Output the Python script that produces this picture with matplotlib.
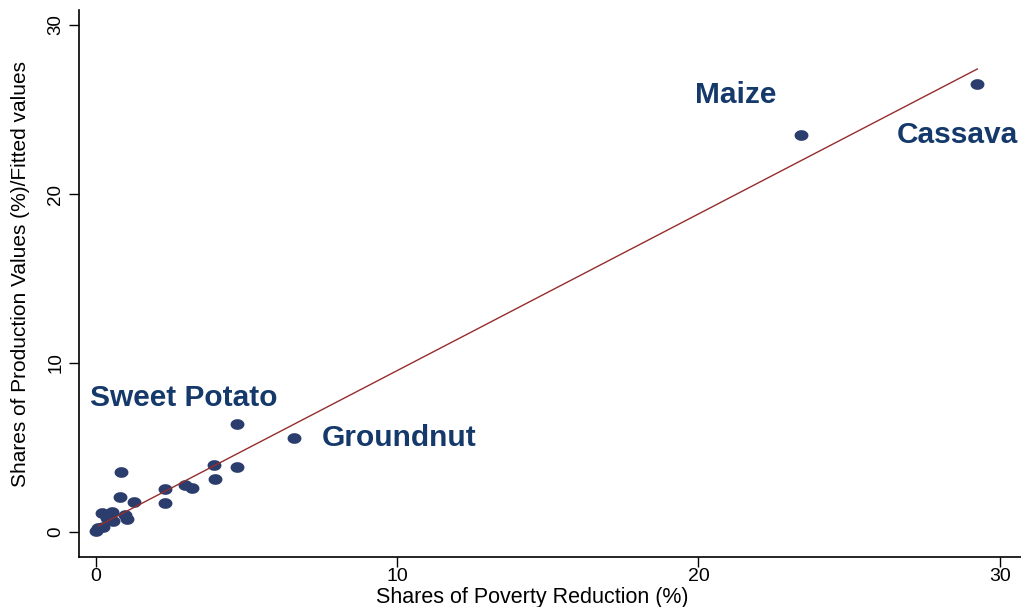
import numpy as np
import matplotlib
matplotlib.use("Agg")
import matplotlib.pyplot as plt
from matplotlib.path import Path

# shares of poverty reduction (%) vs shares of production values (%)
pov_share = [29.26, 23.42, 6.57, 4.67, 4.68, 3.92, 3.95, 0.82, 2.95, 3.18,
             2.29, 2.29, 0.80, 1.26, 0.19, 0.52, 0.36, 0.56, 1.02, 0.95,
             0.08, 0.23, 0.00]
prod_share = [26.5, 23.5, 5.56, 6.39, 3.85, 3.96, 3.14, 3.55, 2.78, 2.60,
              2.54, 1.72, 2.07, 1.78, 1.12, 1.18, 0.83, 0.65, 0.77, 1.00,
              0.22, 0.30, 0.06]

# fitted line end points
fit_x = [0.08, 29.26]
fit_y = [0.36, 27.4]

labels = ["Maize", "Cassava", "Sweet Potato", "Groundnut"]
label_x = [19.9, 26.58, -0.2, 7.51]
label_y = [25.4, 23.0, 7.45, 5.09]

plt.rcParams['font.family'] = ['Liberation Sans', 'DejaVu Sans']

fig = plt.figure(figsize=(10.21, 6.07), dpi=100)
ax = fig.add_axes([0.0774, 0.0824, 0.9226, 0.9011])

# oval marker like the stata one
t = np.linspace(0, 2 * np.pi, 60)
oval = Path(np.column_stack([np.cos(t), 0.77 * np.sin(t)]), closed=True)

ax.plot(pov_share, prod_share, linestyle='none', marker=oval, ms=10,
        color='#2b3d6d', markeredgewidth=0, zorder=2)
ax.plot(fit_x, fit_y, color='#952d2d', lw=1.0, zorder=3)

for name, lx, ly in zip(labels, label_x, label_y):
    ax.text(lx, ly, name, fontsize=21.5, fontweight='bold', color='#14396a',
            ha='left', va='baseline')

ax.set_xlim(-0.565, 30.71)
ax.set_ylim(-1.48, 30.89)
ax.set_xticks([0, 10, 20, 30])
ax.set_yticks([0, 10, 20, 30])

for s in ['top', 'right']:
    ax.spines[s].set_visible(False)
for s in ['left', 'bottom']:
    ax.spines[s].set_linewidth(1.2)

ax.tick_params(axis='both', length=7.2, width=1.0, colors='black')
ax.tick_params(axis='x', labelsize=14, pad=0.5)
ax.tick_params(axis='y', labelsize=13.5, pad=3.5)
plt.setp(ax.get_yticklabels(), rotation=90, va='center')

ax.set_xlabel('Shares of Poverty Reduction (%)', fontsize=15.5)
ax.set_ylabel('Shares of Production Values (%)/Fitted values', fontsize=15)
ax.xaxis.set_label_coords(0.481, -0.054)
ax.yaxis.set_label_coords(-0.052, 0.517)

fig.savefig('out.png', dpi=100)
